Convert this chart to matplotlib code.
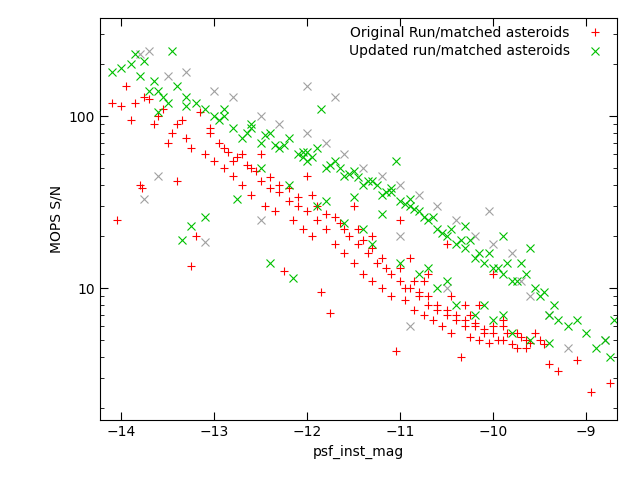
import matplotlib
matplotlib.use("Agg")
import matplotlib.pyplot as plt
from matplotlib.ticker import LogLocator, NullFormatter, FixedLocator

# Original run / matched asteroids (red +)
orig_x = [-14.1,-14.05,-14.0,-13.95,-13.9,-13.85,-13.8,-13.78,-13.75,-13.7,-13.65,-13.6,-13.55,-13.5,-13.45,
          -13.4,-13.35,-13.3,-13.25,-13.25,-13.2,-13.15,-13.1,-13.05,-13.0,-12.95,-12.9,-12.85,-12.8,-12.75,
          -12.7,-12.65,-12.6,-12.55,-12.5,-12.45,-12.4,-12.35,-12.3,-12.25,-12.2,-12.15,-12.1,-12.05,-12.0,
          -11.95,-11.9,-11.85,-11.8,-11.75,-11.7,-11.65,-11.6,-11.55,-11.5,-11.45,-11.4,-11.35,-11.3,-11.25,
          -11.2,-11.15,-11.1,-11.05,-11.0,-10.95,-10.9,-10.85,-10.8,-10.75,-10.7,-10.65,-10.6,-10.55,-10.5,
          -10.45,-10.4,-10.35,-10.3,-10.25,-10.2,-10.15,-10.1,-10.05,-10.0,-9.9,-9.8,-9.7,-9.6,-9.5,
          -9.4,-9.3,-9.1,-8.95,-8.75,-12.5,-12.0,-11.5,-11.0,-10.5,-10.0,-12.8,-12.2,-11.7,-11.3,
          -10.9,-10.7,-10.3,-9.9,-9.75,-9.65,-11.95,-11.45,-10.85,-10.25,
          -12.6,-12.4,-12.3,-12.1,-11.9,-11.8,-11.6,-11.4,-11.2,-11.1,-10.95,-10.8,-10.7,-10.6,-10.5,
          -10.4,-10.3,-10.2,-10.1,-10.0,-9.95,-9.85,-9.75,-9.65,-9.55,-9.45,-11.3,-11.0,-10.75,-10.45,
          -10.15,-9.9,-12.7,-12.9,-13.05,-13.4]
orig_y = [120,25,115,150,95,120,40,38,130,125,90,100,110,70,80,
          42,95,75,13.5,65,20,105,60,80,55,70,50,62,45,58,
          40,52,35,48,42,30,38,28,36,12.5,32,25,30,22,28,
          20,25,9.5,22,7.2,18,24,16,20,14,18,12,16,11,14,
          10,13,9,4.3,11,8.5,10,7.5,9,7,8,6.5,7.5,6,7,
          5.5,6.5,4,6,5.2,6.3,5,5.8,4.8,5.5,5,4.7,5.2,4.8,5,
          3.6,3.3,3.8,2.5,2.8,60,45,30,25,18,12,55,38,26,20,
          15,12,8,6,5.5,5,35,22,11,7,
          50,44,40,34,30,27,22,19,15,12,10,9.5,9,8,7.5,
          7,6.5,6,5.5,6,5,5.5,4.5,4.5,5.5,4.7,17,13,11,9,
          8,6.5,60,65,85,90]

# Updated run / matched asteroids (green x)
upd_x = [-14.1,-14.0,-13.9,-13.85,-13.8,-13.75,-13.7,-13.65,-13.6,-13.55,-13.5,-13.45,-13.4,-13.35,-13.3,
         -13.25,-13.2,-13.1,-13.1,-13.0,-12.95,-12.9,-12.8,-12.7,-12.75,-12.6,-12.5,-12.4,-12.3,-12.2,
         -12.15,-12.1,-12.0,-11.9,-11.85,-11.8,-11.7,-11.6,-11.5,-11.4,-11.3,-11.2,-11.1,-11.05,-11.0,
         -10.9,-10.8,-10.7,-10.6,-10.5,-10.4,-10.3,-10.2,-10.1,-10.0,-9.9,-9.8,-9.7,-9.6,-9.55,
         -9.5,-9.4,-9.3,-9.2,-9.1,-9.0,-8.9,-8.8,-8.75,-8.7,-12.5,-12.2,-11.9,-11.6,-11.3,
         -11.0,-10.8,-10.6,-10.4,-10.2,-10.0,-9.8,-9.6,-9.4,-10.3,-9.9,-11.5,-12.4,-12.0,-11.2,
         -11.75,-11.45,-11.15,-10.95,-10.75,-10.55,-10.35,-10.15,-9.95,-9.75,-12.65,-12.35,-12.05,
         -13.6,-13.3,-12.9,-12.6,-12.45,-12.25,-12.05,-11.95,-11.65,-11.55,-11.35,-11.25,-11.1,-10.9,-10.85,
         -10.65,-10.45,-10.25,-10.05,-9.85,-9.65,-9.45,-9.35,-10.7,-10.5,-10.1,-9.9,-11.4,-11.8]
upd_y = [180,190,200,230,170,210,140,160,105,130,120,240,150,19,130,
         23,120,26,110,100,95,110,85,75,33,90,70,80,65,75,
         11.5,60,55,65,110,50,55,45,48,40,42,35,38,55,32,
         30,28,25,22,20,18,17,15,14,13,12,11,14,17,10,
         9,7,6.5,6,6.5,5.5,4.5,5,4,6.5,50,40,30,24,18,
         14,12,10,8,7,6.5,5.5,5,4.8,23,20,34,14,62,27,
         52,44,36,31,26,21,19,16,13,11,80,68,58,
         140,115,100,85,78,68,62,58,50,46,42,40,36,33,29,
         26,22,19,16,14,12,9.5,8,13,11,8,7,22,32]

# third (unlabelled) run, grey x
grey_x = [-13.8,-13.7,-13.5,-13.3,-13.0,-12.8,-12.5,-12.3,-12.0,-11.8,-11.6,-11.4,-11.2,-11.0,-10.8,
          -10.6,-10.4,-10.2,-10.0,-9.8,-9.6,-9.4,-9.2,-8.8,-13.75,-13.6,-13.1,-12.0,-11.7,-10.05,
          -9.7,-12.5,-11.0,-10.5,-10.9]
grey_y = [230,240,170,180,140,130,100,90,80,70,60,50,45,40,35,
          30,25,20,18,16,9,7,4.5,5,33,45,18.5,150,130,28,
          11,25,20,10,6]

fig = plt.figure(figsize=(6.4, 4.8), dpi=100)
ax = fig.add_axes([0.156, 0.125, 0.808, 0.8375])
ax.plot(grey_x, grey_y, 'x', color='#a0a0a0', ms=6, mew=0.8)
ax.plot(orig_x, orig_y, '+', color='#ff0000', ms=6, mew=0.8, label='Original Run/matched asteroids')
ax.plot(upd_x, upd_y, 'x', color='#00c000', ms=6, mew=0.8, label='Updated run/matched asteroids')

ax.set_yscale('log')
ax.set_xlim(-14.23, -8.67)
ax.set_ylim(1.71, 372)
ax.xaxis.set_major_locator(FixedLocator([-14, -13, -12, -11, -10, -9]))
ax.yaxis.set_major_locator(FixedLocator([10, 100]))
ax.yaxis.set_major_formatter(plt.FixedFormatter(['10', '100']))
ax.yaxis.set_minor_locator(LogLocator(base=10, subs=range(2, 10)))
ax.yaxis.set_minor_formatter(NullFormatter())
ax.tick_params(which='both', direction='in', top=True, right=True, labelsize=10)
ax.tick_params(which='major', length=6)
ax.tick_params(which='minor', length=3)
ax.set_xlabel('psf_inst_mag', fontsize=10)
ax.set_ylabel('MOPS S/N', fontsize=10)
ax.legend(loc='upper right', frameon=False, markerfirst=False, fontsize=10,
          handletextpad=0.8, borderaxespad=0.2, labelspacing=0.3)
fig.savefig('out.png')
